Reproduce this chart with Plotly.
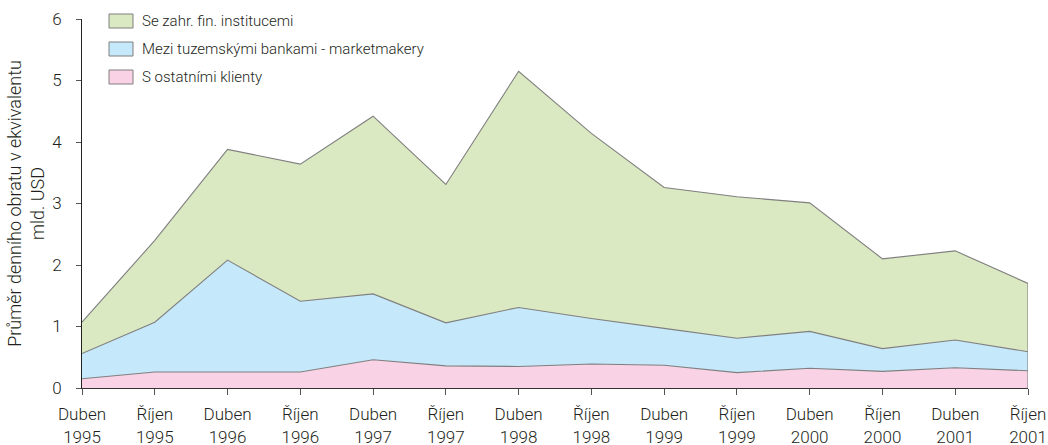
import plotly.graph_objects as go

# Reporting periods (semi-annual surveys)
periods = [
    "Duben<br>1995", "Říjen<br>1995", "Duben<br>1996", "Říjen<br>1996",
    "Duben<br>1997", "Říjen<br>1997", "Duben<br>1998", "Říjen<br>1998",
    "Duben<br>1999", "Říjen<br>1999", "Duben<br>2000", "Říjen<br>2000",
    "Duben<br>2001", "Říjen<br>2001",
]

# Average daily turnover, bn USD equivalent
ostatni_klienti = [0.15, 0.26, 0.26, 0.26, 0.46, 0.36, 0.35, 0.39, 0.37, 0.25, 0.32, 0.27, 0.33, 0.28]
tuzemske_banky = [0.41, 0.81, 1.82, 1.15, 1.07, 0.70, 0.96, 0.74, 0.60, 0.56, 0.60, 0.37, 0.45, 0.31]
zahranicni_instituce = [0.51, 1.33, 1.80, 2.23, 2.89, 2.25, 3.84, 3.01, 2.29, 2.30, 2.09, 1.46, 1.45, 1.11]

y_ticks = [0, 1, 2, 3, 4, 5, 6]

names = ["S ostatními klienty", "Mezi tuzemskými bankami - marketmakery", "Se zahr. fin. institucemi"]
values = [ostatni_klienti, tuzemske_banky, zahranicni_instituce]
fills = ["#f9d3e5", "#c5e8fa", "#dae9c2"]
edge = "#7f7f7f"
text_color = "#231f20"
font_family = "Roboto"
light = 300

W, H = 1048, 445
ML, MR, MT, MB = 82, 20, 19, 57
PW, PH = W - ML - MR, H - MT - MB


def px(x):
    return (x - ML) / PW


def py(y):
    return (H - MB - y) / PH


fig = go.Figure()
for name, vals, col in zip(names, values, fills):
    fig.add_trace(go.Scatter(
        x=periods, y=vals, name=name, mode="lines",
        stackgroup="one", fillcolor=col,
        line=dict(color=edge, width=1.1),
        hoverinfo="x+y+name", showlegend=False,
    ))

# closing edge of the stacked area at the last period
total_last = sum(v[-1] for v in values)
fig.add_trace(go.Scatter(
    x=[periods[-1], periods[-1]], y=[0, total_last], mode="lines",
    line=dict(color=edge, width=1.1), showlegend=False, hoverinfo="skip",
))

# legend drawn as boxes + labels, top item = top layer
shapes = []
annotations = []
box_tops = [14, 42, 70]
for i, (name, col) in enumerate(zip(names[::-1], fills[::-1])):
    top = box_tops[i]
    shapes.append(dict(
        type="rect", xref="paper", yref="paper",
        x0=px(109), x1=px(133), y0=py(top + 14), y1=py(top),
        fillcolor=col, line=dict(color=edge, width=1),
    ))
    annotations.append(dict(
        xref="paper", yref="paper", x=px(140), y=py(top + 7),
        xanchor="left", yanchor="middle", text=name, showarrow=False,
        font=dict(family=font_family, size=15, color=text_color, weight=light),
    ))

fig.update_layout(
    width=W, height=H,
    margin=dict(l=ML, r=MR, t=MT, b=MB),
    paper_bgcolor="white", plot_bgcolor="white",
    font=dict(family=font_family, color=text_color, weight=light),
    shapes=shapes, annotations=annotations,
    showlegend=False,
    xaxis=dict(
        type="category", range=[0, len(periods) - 1],
        automargin=False,
        showgrid=False, zeroline=False,
        showline=True, linecolor="#333333", linewidth=1,
        ticks="outside", ticklen=6, tickcolor="#555555",
        ticklabelstandoff=5,
        tickfont=dict(family=font_family, size=17, color=text_color, weight=light),
    ),
    yaxis=dict(
        range=[0, 6], tickvals=y_ticks,
        automargin=False,
        showgrid=False, zeroline=False,
        showline=True, linecolor="#222222", linewidth=1,
        ticks="outside", ticklen=5, tickcolor="#555555",
        tickfont=dict(family=font_family, size=17, color=text_color, weight=light),
        ticklabelstandoff=11,
        title=dict(text="Průměr denního obratu v ekvivalentu<br>mld. USD",
                   font=dict(family=font_family, size=18, color=text_color, weight=light),
                   standoff=2),
    ),
)

fig.write_html("out.html")
